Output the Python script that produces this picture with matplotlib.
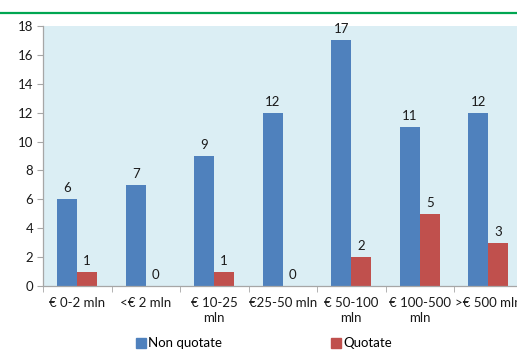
import matplotlib
matplotlib.use("Agg")
import matplotlib.pyplot as plt
import numpy as np
from matplotlib.lines import Line2D

plt.rcParams['font.family'] = ['Lato', 'DejaVu Sans']

categories = ["€ 0-2 mln", "<€ 2 mln", "€ 10-25\nmln", "€25-50 mln",
              "€ 50-100\nmln", "€ 100-500\nmln", ">€ 500 mln"]
non_quotate = [6, 7, 9, 12, 17, 11, 12]
quotate = [1, 0, 1, 0, 2, 5, 3]
yticks = [0, 2, 4, 6, 8, 10, 12, 14, 16, 18]

blue = "#4F81BD"
red = "#C0504D"
bg = "#DBEEF4"
axis_col = "#A6A6A6"
fs = 9.5

fig = plt.figure(figsize=(5.17, 3.51), dpi=100)
ax = fig.add_axes([0.0832, 0.185, 0.9275, 0.741])
ax.set_facecolor(bg)

x = np.arange(len(categories))
w = 0.29
b1 = ax.bar(x - w / 2, non_quotate, w, color=blue, label="Non quotate")
b2 = ax.bar(x + w / 2, quotate, w, color=red, label="Quotate")

for rect, v in zip(b1, non_quotate):
    ax.text(rect.get_x() + rect.get_width() / 2, v + 0.35, str(v),
            ha="center", va="bottom", fontsize=fs, color="#1a1a1a")
for rect, v in zip(b2, quotate):
    ax.text(rect.get_x() + rect.get_width() / 2, v + 0.35, str(v),
            ha="center", va="bottom", fontsize=fs, color="#1a1a1a")

ax.set_xlim(-0.5, len(categories) - 0.5)
ax.set_ylim(0, 18)
ax.set_yticks(yticks)
ax.tick_params(axis="y", labelsize=fs, length=4, color=axis_col, pad=3,
               labelcolor="#1a1a1a")

ax.set_xticks(x)
ax.set_xticklabels(categories, fontsize=fs, linespacing=1.25, color="#1a1a1a")
ax.tick_params(axis="x", length=0, pad=8)
ax.set_xticks(np.arange(len(categories) + 1) - 0.5, minor=True)
ax.tick_params(axis="x", which="minor", length=4, color=axis_col)

for s in ["top", "right"]:
    ax.spines[s].set_visible(False)
for s in ["left", "bottom"]:
    ax.spines[s].set_color(axis_col)
    ax.spines[s].set_linewidth(0.9)

handles = [Line2D([], [], marker="s", linestyle="none", markersize=7.5, color=blue),
           Line2D([], [], marker="s", linestyle="none", markersize=7.5, color=red)]
fig.legend(handles, ["Non quotate", "Quotate"], loc="center",
           bbox_to_anchor=(0.51, 0.022), ncol=2, frameon=False,
           fontsize=fs, columnspacing=8.2, handletextpad=0.1, handlelength=0.9)

# green rule under the heading
fig.add_artist(Line2D([0, 1], [1 - 12.5 / 351, 1 - 12.5 / 351],
                      transform=fig.transFigure, color="#00A651", linewidth=1.6))

fig.savefig("out.png", dpi=100)
